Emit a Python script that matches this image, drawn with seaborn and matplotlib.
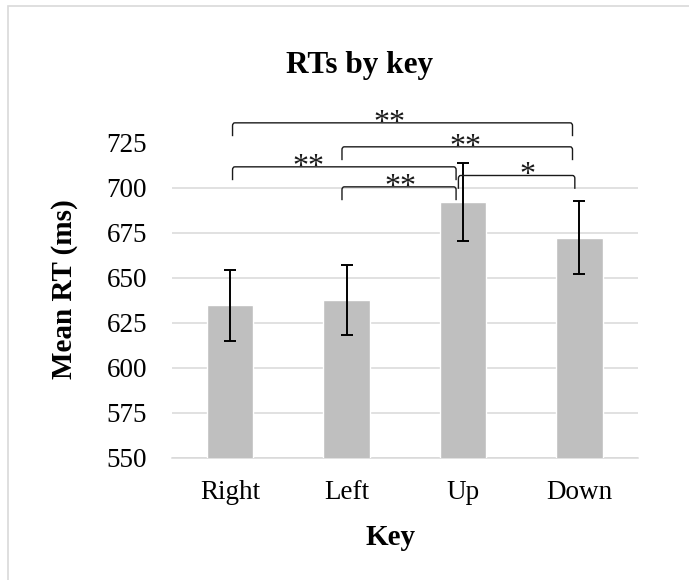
import numpy as np
import pandas as pd
import matplotlib
matplotlib.use('Agg')
import matplotlib.pyplot as plt
import seaborn as sns
from matplotlib.path import Path
from matplotlib.patches import PathPatch, Rectangle

# mean reaction time per key, with error bar half-widths
keys = ['Right', 'Left', 'Up', 'Down']
mean_rt = [634.8, 637.6, 691.8, 672.2]
err_rt = [19.7, 19.4, 21.6, 20.2]

# significance brackets (x in category units, height in ms)
brk_left = [0.02, 0.96, 0.02, 0.96, 1.96]
brk_right = [2.94, 2.94, 1.94, 1.94, 2.96]
brk_height = [735.9, 722.6, 711.5, 700.4, 706.7]
brk_label = ['**', '**', '**', '**', '*']
brk_label_x = [1.37, 2.02, 0.67, 1.46, 2.55]

yticks = [550, 575, 600, 625, 650, 675, 700, 725]

sns.set_style('white')
plt.rcParams['font.family'] = ['Liberation Serif', 'DejaVu Serif']
plt.rcParams['text.color'] = 'black'

W, H = 689, 580
fig = plt.figure(figsize=(W / 100, H / 100), dpi=100)
ax = fig.add_axes([172 / W, 1 - 458 / H, (637.7 - 172) / W, (458 - 142.5) / H])

df = pd.DataFrame({'Key': keys, 'RT': mean_rt})
sns.barplot(data=df, x='Key', y='RT', color='#bfbfbf', saturation=1,
            width=0.4, errorbar=None, ax=ax, zorder=2)
ax.errorbar(x=np.arange(len(keys)), y=mean_rt, yerr=err_rt, fmt='none',
            ecolor='black', elinewidth=1.4, capsize=4.3, capthick=1.4, zorder=3)

ax.set_xlim(-0.5, 3.5)
ax.set_ylim(550, 725)
ax.set_yticks(yticks)
ax.set_yticklabels([str(t) for t in yticks])
ax.yaxis.grid(True, color='#d9d9d9', linewidth=1.1)
ax.set_axisbelow(True)
for s in ['left', 'right', 'top']:
    ax.spines[s].set_visible(False)
ax.spines['bottom'].set_color('#d9d9d9')
ax.spines['bottom'].set_linewidth(1.1)
ax.spines['bottom'].set_zorder(1)

ax.tick_params(axis='y', length=0, pad=18, labelsize=19.5, labelcolor='black')
ax.tick_params(axis='x', which='major', length=0, pad=16, labelsize=19.5, labelcolor='black')
ax.set_xticks([-0.5, 0.5, 1.5, 2.5, 3.5], minor=True)
ax.tick_params(axis='x', which='minor', length=6, width=1.1, color='#d9d9d9')
ax.set_xlabel('')
ax.set_ylabel('')

# significance brackets with small rounded corners
leg = 7.4
rx, ry = 0.02, 1.6
for x0, x1, h, lab, lx in zip(brk_left, brk_right, brk_height, brk_label, brk_label_x):
    verts = [(x0, h - leg), (x0, h - ry), (x0, h), (x0 + rx, h),
             (x1 - rx, h), (x1, h), (x1, h - ry), (x1, h - leg)]
    codes = [Path.MOVETO, Path.LINETO, Path.CURVE3, Path.CURVE3,
             Path.LINETO, Path.CURVE3, Path.CURVE3, Path.LINETO]
    ax.add_patch(PathPatch(Path(verts, codes), fill=False, edgecolor='#1a1a1a',
                           linewidth=1.0, clip_on=False, zorder=4))
    ax.text(lx, h - 4.4, lab, ha='center', va='baseline', fontsize=23,
            color='#1a1a1a', clip_on=False)

fig.text(360 / W, 1 - 72.7 / H, 'RTs by key', ha='center', va='baseline',
         fontsize=22.5, fontweight='bold', color='black')
fig.text(390 / W, 1 - 545 / H, 'Key', ha='center', va='baseline',
         fontsize=21, fontweight='bold', color='black')
fig.text(65 / W, 1 - 289 / H, 'Mean RT (ms)', ha='center', va='center',
         rotation=90, fontsize=21, fontweight='bold', color='black')

# chart area border
fig.patches.append(Rectangle((8 / W, -0.1), 1.2, 1.1 - 6 / H, transform=fig.transFigure,
                             fill=False, edgecolor='#d9d9d9', linewidth=1.2))

fig.savefig('out.png', dpi=100)
